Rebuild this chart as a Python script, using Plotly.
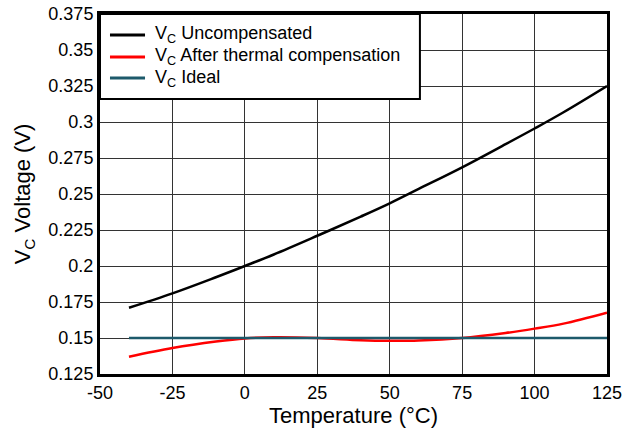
import plotly.graph_objects as go

temp_c = [-40, -25, -10, 0, 10, 25, 40, 50, 60, 75, 90, 100, 110, 125]
vc_uncomp = [0.171, 0.181, 0.1922, 0.200, 0.208, 0.221, 0.2343, 0.2435, 0.2535, 0.2685, 0.2846, 0.2955, 0.3068, 0.325]
vc_comp = [0.137, 0.143, 0.1475, 0.1497, 0.1505, 0.150, 0.1485, 0.1481, 0.1483, 0.150, 0.1535, 0.1565, 0.160, 0.1676]
vc_ideal = [0.15] * len(temp_c)

x_ticks = [-50, -25, 0, 25, 50, 75, 100, 125]
x_labels = ["-50", "-25", "0", "25", "50", "75", "100", "125"]
y_ticks = [0.125, 0.15, 0.175, 0.2, 0.225, 0.25, 0.275, 0.3, 0.325, 0.35, 0.375]
y_labels = ["0.125", "0.15", "0.175", "0.2", "0.225", "0.25", "0.275", "0.3", "0.325", "0.35", "0.375"]

series_names = ["V<sub>C</sub> Uncompensated", "V<sub>C</sub> After thermal compensation", "V<sub>C</sub> Ideal"]
series_colors = ["#000000", "#ff0000", "#1d5a6b"]

font = "Liberation Sans, Arial, sans-serif"

fig = go.Figure()
for name, values, color in zip(series_names, [vc_uncomp, vc_comp, vc_ideal], series_colors):
    fig.add_trace(go.Scatter(x=temp_c, y=values, mode="lines", name=name, showlegend=False,
                             line=dict(color=color, width=2.5, shape="spline")))

# legend drawn by hand so the row spacing matches the original (Plotly pads rows with subscripts)
fig.add_shape(type="rect", xref="paper", yref="paper", x0=0, x1=0.631, y0=0.764, y1=1,
              fillcolor="white", line=dict(color="#000000", width=2), layer="above")
row_y = [0.9417, 0.8806, 0.8222]
for name, color, y in zip(series_names, series_colors, row_y):
    fig.add_shape(type="line", xref="paper", yref="paper", x0=0.0197, x1=0.0888, y0=y, y1=y,
                  line=dict(color=color, width=3), layer="above")
    fig.add_annotation(xref="paper", yref="paper", x=0.105, y=y, text=name, showarrow=False,
                       xanchor="left", yanchor="middle", font=dict(size=18, color="#000000"))

fig.update_layout(
    width=623,
    height=430,
    margin=dict(l=100, r=16, t=14, b=56),
    paper_bgcolor="white",
    plot_bgcolor="white",
    font=dict(family=font, size=18, color="#000000"),
)
fig.update_xaxes(
    range=[-50, 125], tickvals=x_ticks, ticktext=x_labels, automargin=False, ticklabeloverflow="allow",
    showgrid=True, gridcolor="#333333", gridwidth=1,
    zeroline=False, showline=True, linecolor="#000000", linewidth=3, mirror=True,
    ticks="", title=dict(text="Temperature (°C)", standoff=4),
    tickfont=dict(size=18),
)
fig.update_yaxes(
    range=[0.125, 0.375], tickvals=y_ticks, ticktext=y_labels, automargin=False, ticklabeloverflow="allow",
    showgrid=True, gridcolor="#333333", gridwidth=1,
    zeroline=False, showline=True, linecolor="#000000", linewidth=3, mirror=True,
    ticks="", title=dict(text="V<sub>C</sub> Voltage (V)", standoff=12),
    tickfont=dict(size=18),
)

# drop the default 8px body margin so the 623x430 figure fills the window exactly
fig.write_html("out.html", config={"displayModeBar": False},
               post_script="document.body.style.margin = '0';")
